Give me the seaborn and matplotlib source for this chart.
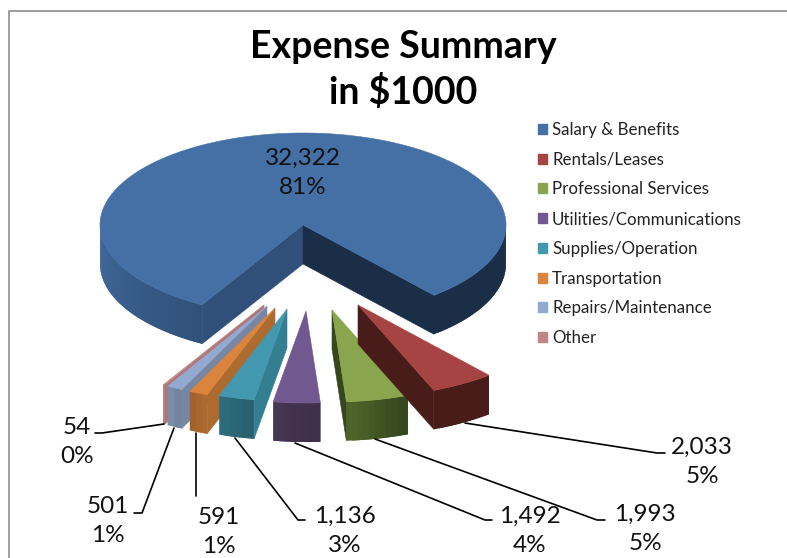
import numpy as np
import matplotlib
matplotlib.use("Agg")
import matplotlib.pyplot as plt
from matplotlib.patches import Patch
import seaborn as sns

# Donnees du graphique
categories = ["Salary & Benefits", "Rentals/Leases", "Professional Services",
              "Utilities/Communications", "Supplies/Operation", "Transportation",
              "Repairs/Maintenance", "Other"]
values = [32322, 2033, 1993, 1492, 1136, 591, 501, 54]
title_lines = ["Expense Summary", "in $1000"]

# Couleurs
top_colors = ["#4470a6", "#a54442", "#89a54e", "#71588f", "#4198af", "#db843d", "#93a9cf", "#c08685"]
wall_left = ["#41699b", "#481c19", "#4e652a", "#463553", "#2c6c7c", "#a2622a", "#7a8ca9", "#ad7574"]
wall_right = ["#30527a", "#481c19", "#36461d", "#3e2f4a", "#29606e", "#ac6a30", "#73849f", "#ad7574"]
cut_colors = ["#30507a", "#481c19", "#36461d", "#3e2f4a", "#337f91", "#ae6b30", "#7787a3", "#ad7574"]
cut_colors_end = "#1b2e47"

# Geometrie de la projection (pixels de l'image)
cx, cy = 303, 225
rx, ry = 203, 92
depth = 39
first_angle = 119.8
# Decalage de chaque part par rapport au centre
offsets = [(0, 0), (55, 80), (29, 85), (3, 86), (-16, 84), (-28, 83), (-36, 81), (-39, 80)]

# Position des etiquettes et lignes de rappel
label_pos = [(303, 173), (702, 462), (645, 529), (530, 531), (345, 531), (219, 532), (108, 521), (77, 442)]
leaders = [None,
           [(465, 423), (657, 453), (665, 453)],
           [(375, 439), (597, 520), (605, 520)],
           [(295, 443), (485, 520), (492, 520)],
           [(235, 438), (298, 520), (305, 520)],
           [(196, 433), (196, 496)],
           [(174, 428), (142, 513), (134, 513)],
           [(164, 424), (102, 433), (95, 433)]]

sns.set_theme(style="white")
plt.rcParams['font.family'] = ['Lato', 'DejaVu Sans']


def rim(x0, y0, angles):
    rad = np.radians(angles)
    return np.column_stack([x0 + rx * np.cos(rad), y0 + ry * np.sin(rad)])


def draw_wall(ax, x0, y0, t0, t1, c_left, c_right):
    # Paroi exterieure en facettes qui se chevauchent pour le degrade
    n = max(int((t1 - t0) / 1.5), 1)
    grid = np.linspace(t1, t0, n + 1)
    shades = sns.blend_palette([c_left, c_right], n)
    pts = rim(x0, y0, grid)
    for i in range(n):
        j = min(i + 2, n)
        quad = [pts[i], pts[j], pts[j] + [0, depth], pts[i] + [0, depth]]
        ax.fill(*zip(*quad), color=shades[i], lw=0)


def draw_cut(ax, x0, y0, angle, color):
    p = rim(x0, y0, [angle])[0]
    quad = [(x0, y0), p, p + [0, depth], (x0, y0 + depth)]
    ax.fill(*zip(*quad), color=color, lw=0.4)


fig = plt.figure(figsize=(7.87, 5.58), dpi=100)
ax = fig.add_axes([0, 0, 1, 1])
ax.set_xlim(0, 787)
ax.set_ylim(558, 0)
ax.axis("off")

# Cadre du graphique (seulement a gauche et en haut dans l'image)
ax.plot([8.5, 8.5, 787], [558, 10.5, 10.5], color="#8c8c8c", lw=1.2)

sweeps = np.array(values) / sum(values) * 360
starts = first_angle + np.concatenate([[0], np.cumsum(sweeps)[:-1]])
total = sum(values)

# Lignes de rappel sous les parts
for pts in leaders:
    if pts is not None:
        ax.plot(*zip(*pts), color="black", lw=1.2)

# On dessine de la plus petite part vers la plus grande (ordre de recouvrement)
for i in range(len(values) - 1, -1, -1):
    x0 = cx + offsets[i][0]
    y0 = cy + offsets[i][1]
    t0_norm = starts[i] % 360
    t1_norm = t0_norm + sweeps[i]

    # Parois exterieures visibles
    for lo, hi in [(0, 180), (360, 540)]:
        a, b = max(t0_norm, lo), min(t1_norm, hi)
        if b > a:
            if lo == 0:
                draw_wall(ax, x0, y0, a, b, wall_left[i], wall_right[i])
            else:
                draw_wall(ax, x0, y0, a, b, cut_colors_end, cut_colors_end)

    # Parois de coupe visibles
    if 90 < t0_norm < 270:
        draw_cut(ax, x0, y0, t0_norm, cut_colors[i])
    if np.cos(np.radians(t1_norm)) > 0:
        draw_cut(ax, x0, y0, t1_norm, cut_colors_end if i == 0 else cut_colors[i])

    # Face superieure
    arc = rim(x0, y0, np.linspace(t0_norm, t1_norm, max(int(sweeps[i]), 2) + 1))
    face = np.vstack([[x0, y0], arc])
    ax.fill(face[:, 0], face[:, 1], color=top_colors[i], lw=0.4)

# Etiquette valeur + pourcentage
for i, val in enumerate(values):
    ax.text(*label_pos[i], f"{val:,}\n{val / total:.0%}", ha="center", va="center",
            fontsize=17.5, color="#111111", linespacing=1.45)

# Titre
ax.text(403, 70, "\n".join(title_lines), ha="center", va="center", fontsize=27,
        fontweight="bold", color="black", linespacing=1.3)

# Legende
handles = [Patch(color=c, label=lab) for c, lab in zip(top_colors, categories)]
ax.legend(handles=handles, loc="upper left", bbox_to_anchor=(538 / 787, 1 - 122 / 558),
          frameon=False, fontsize=12.2, handlelength=0.53, handleheight=0.53,
          handletextpad=0.3, labelspacing=0.81, borderaxespad=0, borderpad=0,
          labelcolor="#222222")

fig.savefig("out.png", dpi=100)
